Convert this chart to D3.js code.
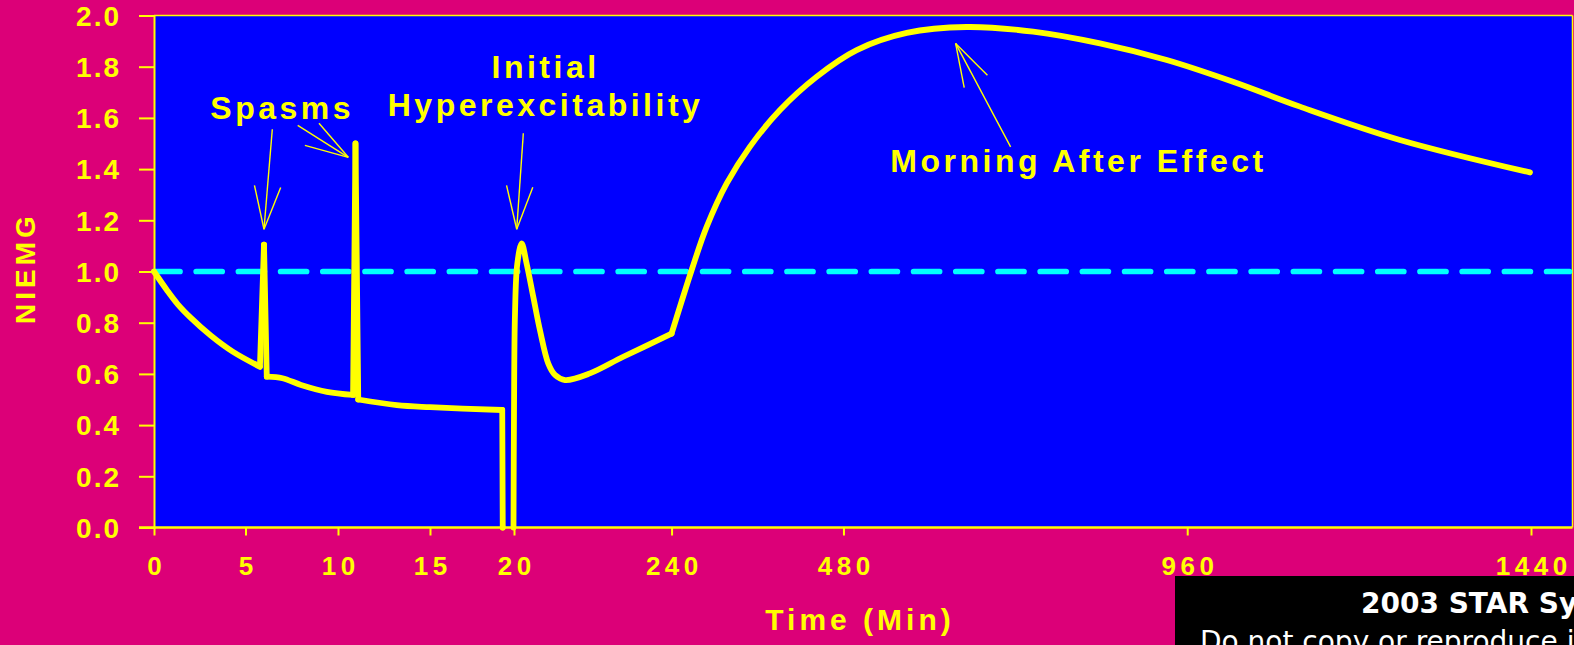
<!DOCTYPE html>
<html>
<head>
<meta charset="utf-8">
<script src="https://cdn.jsdelivr.net/npm/d3@7"></script>
<style>
  html, body { margin: 0; padding: 0; background: #DC0078; overflow: hidden; }
  svg { display: block; }
</style>
</head>
<body>
<svg id="chart" width="1574" height="645"></svg>
<script>
// ---------------- DATA ----------------
const timeMin = [0, 0.7, 1.3, 2.0, 3.1, 4.3, 5.78, 6.0, 6.15, 7.0, 8.0, 9.4, 10.82, 10.95, 11.1,
  13.2, 15.0, 19.3, 19.33, 19.65, 19.97, 20.0, 21.4, 24.6, 30.7, 37.7, 47, 56.3, 67.9, 77.2,
  91.2, 126, 172.6, 240, 268.1, 289.1, 317.0, 349.5, 391.4, 442.6, 498.5, 568.3, 652, 744.7, 838.2, 931.4, 1023.9,
  1117.5, 1257, 1438.6];
const niemg = [1.0, 0.928, 0.872, 0.82, 0.75, 0.687, 0.628, 1.105, 0.589, 0.583, 0.557, 0.530, 0.518, 1.50, 0.50,
  0.478, 0.470, 0.459, 0.0, null, 0.0, 0.45, 0.837, 1.03, 1.11, 1.03, 0.90, 0.77, 0.64, 0.596,
  0.576, 0.602, 0.667, 0.757, 1.006, 1.175, 1.344, 1.488, 1.631, 1.761, 1.865, 1.932, 1.955, 1.937, 1.891, 1.826, 1.741,
  1.644, 1.514, 1.387];
// sharp corners of the trace (spikes, drop, onset of morning-after rise)
const cornerTimes = [5.78, 6.0, 6.15, 10.82, 10.95, 11.1, 19.3, 19.33, 240];
const baselineValue = 1.0;

const xTickValues = [0, 5, 10, 15, 20, 240, 480, 960, 1440];
const xTickLabels = ["0", "5", "10", "15", "20", "240", "480", "960", "1440"];
const yTickValues = [0, 0.2, 0.4, 0.6, 0.8, 1.0, 1.2, 1.4, 1.6, 1.8, 2.0];
const yTickLabels = ["0.0", "0.2", "0.4", "0.6", "0.8", "1.0", "1.2", "1.4", "1.6", "1.8", "2.0"];

const xTitle = "Time (Min)";
const yTitle = "NIEMG";

// annotation texts (anchored in data units)
const annoLabels = ["Spasms", "Initial", "Hyperexcitability", "Morning After Effect"];
const annoLabelTime = [6.89, 61.6, 61.6, 805.7];
const annoLabelValue = [1.595, 1.755, 1.609, 1.39];
// arrows: tip in data units
const arrowTipTime = [6.0, 10.56, 23.8, 636.6];
const arrowTipValue = [1.165, 1.446, 1.165, 1.891];

const footerTitle = "2003 STAR Symposium";
const footerNote = "Do not copy or reproduce in any form without permission";

// ---------------- LAYOUT ----------------
const W = 1574, H = 645;
const plot = { left: 154, right: 1572.5, top: 15.5, bottom: 527.5 };
const YELLOW = "#FFFF00", BLUE = "#0000FF", CYAN = "#00FFFF", MAGENTA = "#DC0078";
const FONT = "'Liberation Sans', Arial, Helvetica, sans-serif";

const svg = d3.select("#chart");

// broken (piecewise) time axis: first 20 min stretched, then linear
const x = d3.scaleLinear()
  .domain([0, 5, 10, 15, 20, 1440])
  .range([plot.left, 245.5, 338, 430, 514, 1531]);
const y = d3.scaleLinear().domain([0, 2]).range([plot.bottom, plot.top]);

svg.append("rect").attr("width", W).attr("height", H).attr("fill", MAGENTA);
svg.append("rect")
  .attr("x", plot.left).attr("y", plot.top)
  .attr("width", plot.right - plot.left).attr("height", plot.bottom - plot.top)
  .attr("fill", BLUE);

// frame (top, right)
svg.append("line").attr("x1", plot.left).attr("x2", plot.right)
  .attr("y1", plot.top).attr("y2", plot.top)
  .attr("stroke", YELLOW).attr("stroke-width", 1.5);
svg.append("line").attr("x1", plot.right).attr("x2", plot.right)
  .attr("y1", plot.top).attr("y2", plot.bottom)
  .attr("stroke", YELLOW).attr("stroke-width", 1.5);

// Y axis
const yAxis = d3.axisLeft(y).tickValues(yTickValues)
  .tickFormat((d, i) => yTickLabels[i]).tickSize(15).tickPadding(20);
const gy = svg.append("g").attr("transform", `translate(${plot.left},0)`).call(yAxis);
gy.select(".domain").attr("stroke", YELLOW).attr("stroke-width", 2);
gy.selectAll(".tick line").attr("stroke", YELLOW).attr("stroke-width", 2);
gy.selectAll(".tick text")
  .attr("fill", YELLOW).attr("font-family", FONT).attr("font-weight", "bold")
  .attr("font-size", 28).style("letter-spacing", "2px")
  .attr("x", -33).attr("dy", "0.35em");

// X axis
const xAxis = d3.axisBottom(x).tickValues(xTickValues)
  .tickFormat((d, i) => xTickLabels[i]).tickSize(8).tickPadding(0);
const gx = svg.append("g").attr("transform", `translate(0,${plot.bottom})`).call(xAxis);
gx.select(".domain").attr("stroke", YELLOW).attr("stroke-width", 2.5)
  .attr("d", `M${plot.left - 15},0H${plot.right}`);
gx.selectAll(".tick line").attr("stroke", YELLOW).attr("stroke-width", 2);
gx.selectAll(".tick text")
  .attr("fill", YELLOW).attr("font-family", FONT).attr("font-weight", "bold")
  .attr("font-size", 26).style("letter-spacing", "4.5px")
  .attr("y", 47.5).attr("dy", 0).attr("dx", 2.25);

// dashed reference line at 1.0
svg.append("line")
  .attr("x1", plot.left).attr("x2", plot.right - 3)
  .attr("y1", y(baselineValue)).attr("y2", y(baselineValue))
  .attr("stroke", CYAN).attr("stroke-width", 5.7)
  .attr("stroke-dasharray", "26,16.2").attr("stroke-linecap", "round");

// main curve: split at gaps and sharp corners, smooth inside each piece
const pts = timeMin.map((t, i) => ({ t, v: niemg[i] }));
const pieces = [];
let cur = [];
pts.forEach(p => {
  if (p.v === null) { if (cur.length) pieces.push(cur); cur = []; return; }
  cur.push(p);
  if (cornerTimes.includes(p.t) && cur.length > 1) { pieces.push(cur); cur = [p]; }
});
if (cur.length > 1) pieces.push(cur);

const line = d3.line()
  .x(d => x(d.t)).y(d => y(d.v))
  .curve(d3.curveCatmullRom.alpha(0.5));
const curveG = svg.append("g");
pieces.forEach(seg => {
  curveG.append("path").datum(seg)
    .attr("d", line)
    .attr("fill", "none").attr("stroke", YELLOW).attr("stroke-width", 5.8)
    .attr("stroke-linejoin", "round").attr("stroke-linecap", "round");
});

// annotations
const annoG = svg.append("g").attr("font-family", FONT).attr("font-weight", "bold")
  .attr("font-size", 32).attr("fill", YELLOW);
annoLabels.forEach((txt, i) => {
  annoG.append("text")
    .attr("x", x(annoLabelTime[i])).attr("y", y(annoLabelValue[i]))
    .attr("text-anchor", "middle").attr("dx", 1.75)
    .style("letter-spacing", "3.5px")
    .text(txt);
});

// arrow tails (pixel offsets from tip; presentation only)
const tailOffsets = [[8.3, -100], [-50.6, -32], [6.6, -96], [55, 103.4]];
const arrowG = svg.append("g").attr("stroke", YELLOW).attr("stroke-width", 1.4).attr("fill", "none");
arrowTipTime.forEach((t, i) => {
  const tx = x(t), ty = y(arrowTipValue[i]);
  const [ox, oy] = tailOffsets[i];
  const ang = Math.atan2(oy, ox);
  const hl = 45, spread = 17 * Math.PI / 180;
  arrowG.append("line").attr("x1", tx).attr("y1", ty).attr("x2", tx + ox).attr("y2", ty + oy);
  [-1, 1].forEach(s => {
    arrowG.append("line").attr("x1", tx).attr("y1", ty)
      .attr("x2", tx + hl * Math.cos(ang + s * spread))
      .attr("y2", ty + hl * Math.sin(ang + s * spread));
  });
});

// axis titles
svg.append("text")
  .attr("x", 858).attr("y", 630).attr("text-anchor", "middle").attr("dx", 2)
  .attr("font-family", FONT).attr("font-weight", "bold").attr("font-size", 30)
  .style("letter-spacing", "4px").attr("fill", YELLOW).text(xTitle);
svg.append("text")
  .attr("transform", "translate(35,270) rotate(-90)")
  .attr("text-anchor", "middle").attr("dx", 2)
  .attr("font-family", FONT).attr("font-weight", "bold").attr("font-size", 28)
  .style("letter-spacing", "4px").attr("fill", YELLOW).text(yTitle);

// footer box
svg.append("rect").attr("x", 1175).attr("y", 576).attr("width", 420).attr("height", 80).attr("fill", "#000");
svg.append("text").attr("x", 1361).attr("y", 613)
  .attr("font-family", "'DejaVu Sans', Verdana, sans-serif").attr("font-weight", "bold")
  .attr("font-size", 28).attr("fill", "#fff").text(footerTitle);
svg.append("text").attr("x", 1200).attr("y", 651)
  .attr("font-family", "'DejaVu Sans', Verdana, sans-serif")
  .attr("font-size", 28).attr("fill", "#fff").text(footerNote);
</script>
</body>
</html>
